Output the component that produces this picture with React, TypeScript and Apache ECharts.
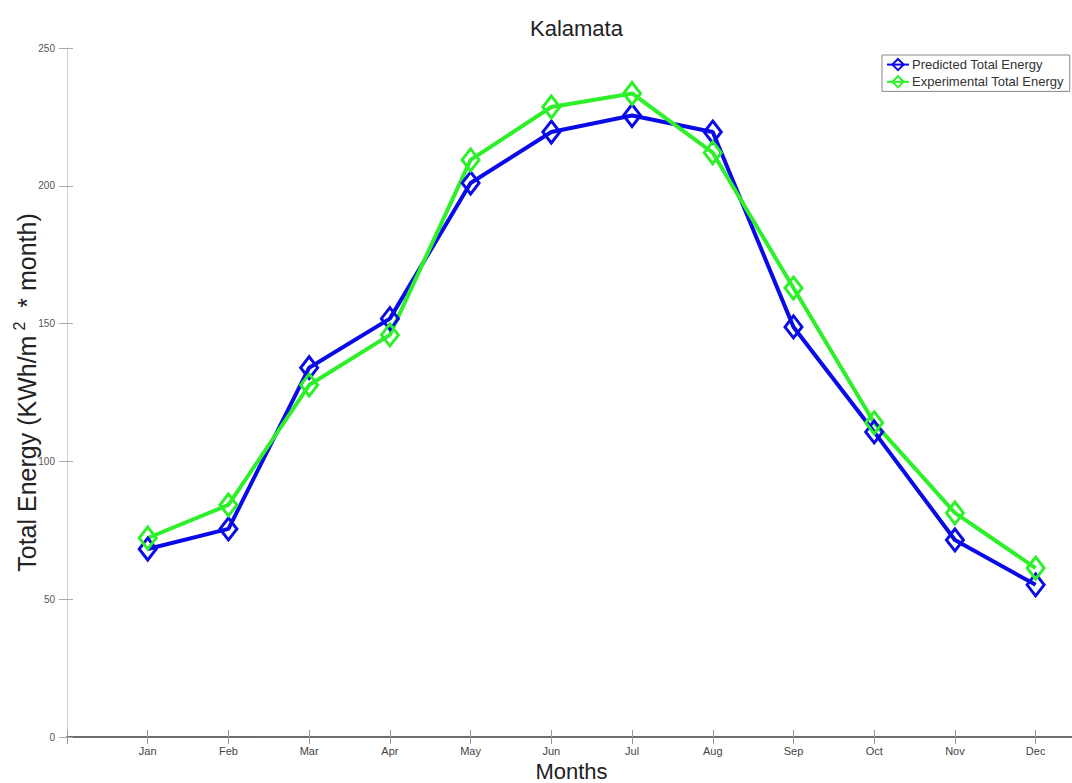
import React, { useEffect, useRef } from "react";
import * as echarts from "echarts";

const months = ["Jan", "Feb", "Mar", "Apr", "May", "Jun", "Jul", "Aug", "Sep", "Oct", "Nov", "Dec"];
const predicted = [68.2, 75.5, 134.0, 151.8, 201.0, 219.5, 225.5, 219.5, 148.8, 110.7, 71.5, 55.2];
const experimental = [72.2, 84.2, 127.7, 145.9, 209.4, 228.6, 233.5, 212.0, 162.9, 114.0, 81.3, 61.3];
const yTicks = { min: 0, max: 250, interval: 50 };

const FONT = "'Liberation Sans', Arial, Helvetica, sans-serif";
const BLUE = "#0a0ae8";
const GREEN = "#2ef02a";

export default function App() {
  const ref = useRef<HTMLDivElement>(null);
  useEffect(() => {
    if (!ref.current) return;
    const chart = echarts.init(ref.current, undefined, { renderer: "svg" });
    const mkSeries = (name: string, vals: number[], color: string) => ({
      name,
      type: "line",
      data: vals.map((v, i) => [i + 1, v]),
      symbol: "diamond",
      symbolSize: [17, 22],
      color,
      lineStyle: { color, width: 4 },
      itemStyle: { color: "rgba(255,255,255,0)", borderColor: color, borderWidth: 3 },
      emphasis: { disabled: true },
      z: 3,
    });
    chart.setOption({
      animation: false,
      backgroundColor: "#fff",
      textStyle: { fontFamily: FONT },
      title: {
        text: "Kalamata",
        left: 525,
        top: 12,
        textStyle: { fontSize: 22, fontWeight: "normal", color: "#222", fontFamily: FONT },
      },
      legend: {
        left: 882,
        top: 55,
        orient: "vertical",
        padding: [3, 6, 3, 4],
        itemGap: 4,
        itemWidth: 22,
        itemHeight: 14,
        borderColor: "#888",
        borderWidth: 1,
        backgroundColor: "#fff",
        textStyle: { fontSize: 13, color: "#333", fontFamily: FONT, padding: [0, 0, 0, -2] },
        data: ["Predicted Total Energy", "Experimental Total Energy"],
      },
      grid: { left: 67, top: 48, right: -4, bottom: 46, containLabel: false, outerBoundsMode: "none" },
      xAxis: [
        {
          type: "value",
          position: "bottom",
          min: 0,
          max: 12.5,
          interval: 1,
          name: "Months",
          nameLocation: "middle",
          nameGap: 23,
          nameMoveOverlap: false,
          nameTextStyle: { fontSize: 22, color: "#222", fontFamily: FONT },
          axisLine: { lineStyle: { color: "#666", width: 1.5 } },
          axisTick: { inside: true, length: 7, lineStyle: { color: "#999" } },
          axisLabel: {
            formatter: (v: number) => months[v - 1] ?? "",
            color: "#444",
            fontSize: 11,
            margin: 8,
            showMaxLabel: false,
          },
          splitLine: { show: false },
        },
        {
          type: "value",
          position: "top",
          min: 0,
          max: 12.5,
          interval: 1,
          axisLine: { lineStyle: { color: "#666", width: 1.5 } },
          axisTick: { inside: true, length: 7, lineStyle: { color: "#999" } },
          axisLabel: { show: false },
          splitLine: { show: false },
        },
      ],
      yAxis: [
        {
          type: "value",
          position: "left",
          min: yTicks.min,
          max: yTicks.max,
          interval: yTicks.interval,
          name: "{a|Total Energy (KWh/m}{s|2}{a| * month)}",
          nameLocation: "middle",
          nameGap: 24,
          nameMoveOverlap: false,
          nameRotate: 90,
          nameTextStyle: {
            rich: {
              a: { fontSize: 25, color: "#222", fontFamily: FONT, lineHeight: 32 },
              s: { fontSize: 16, color: "#222", fontFamily: FONT, verticalAlign: "top", padding: [0, 7, 0, 5] },
            },
          },
          axisLine: { lineStyle: { color: "#ccc", width: 1 } },
          axisTick: { inside: true, length: 6, lineStyle: { color: "#aaa" } },
          axisLabel: { color: "#555", fontSize: 10, margin: 12 },
          splitLine: { show: false },
        },
        {
          type: "value",
          position: "right",
          min: yTicks.min,
          max: yTicks.max,
          interval: yTicks.interval,
          axisLine: { show: true, lineStyle: { color: "#ccc" } },
          axisTick: { show: true, inside: true, length: 8, lineStyle: { color: "#aaa" } },
          axisLabel: { show: false },
          splitLine: { show: false },
        },
      ],
      series: [
        mkSeries("Predicted Total Energy", predicted, BLUE),
        mkSeries("Experimental Total Energy", experimental, GREEN),
      ],
    });
    return () => chart.dispose();
  }, []);
  return (
    <div
      ref={ref}
      style={{ position: "fixed", left: 0, top: 0, width: 1072, height: 783, background: "#fff" }}
    />
  );
}
